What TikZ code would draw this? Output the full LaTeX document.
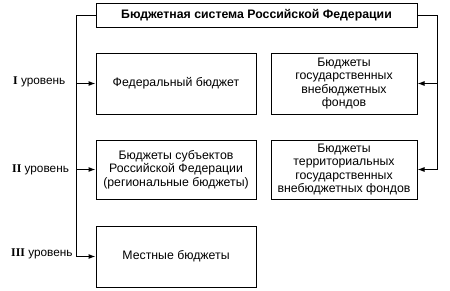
\documentclass[tikz,border=0pt]{standalone}
\usepackage{fontspec}
\setmainfont{Liberation Sans}
\newfontfamily\romfont{Liberation Serif}
\usetikzlibrary{arrows.meta}
\begin{document}
\begin{tikzpicture}[x=1pt,y=-1pt,
  box/.style={draw,line width=1pt,align=center,inner sep=0pt,
    font=\fontsize{12.3}{13.3}\selectfont},
  conn/.style={line width=1pt},
  arr/.style={conn,-{Latex[length=7pt,width=5pt]}},
  lvl/.style={anchor=west,inner sep=0pt,font=\fontsize{11.8}{14}\selectfont}]
\useasboundingbox (0,0) rectangle (450,290);
\node[box,minimum width=321pt,minimum height=24pt,font=\fontsize{12.3}{14}\selectfont\bfseries]
  (title) at (256.5,15) {Бюджетная система Российской Федерации};
\node[box,minimum width=160pt,minimum height=61pt] (fed) at (176,83.5) {Федеральный бюджет};
\node[box,minimum width=146pt,minimum height=61pt] (funds) at (344,83.5)
  {Бюджеты\\государственных\\внебюджетных\\фондов};
\node[box,minimum width=160pt,minimum height=59pt] (reg) at (176,169.5)
  {Бюджеты субъектов\\Российской Федерации\\(региональные бюджеты)};
\node[box,minimum width=146pt,minimum height=59pt] (terr) at (344,169.5)
  {Бюджеты\\территориальных\\государственных\\внебюджетных фондов};
\node[box,minimum width=160pt,minimum height=61pt] (loc) at (176,256.5) {Местные бюджеты};
\coordinate (lb) at (76,256.5);
\coordinate (rb) at (437,169.5);
\draw[conn] (title.west) -| (lb);
\draw[arr] (lb) -- (loc.west);
\draw[arr] (fed.west -| lb) -- (fed.west);
\draw[arr] (reg.west -| lb) -- (reg.west);
\draw[conn] (title.east) -| (rb);
\draw[arr] (rb) -- (terr.east);
\draw[arr] (funds.east -| rb) -- (funds.east);
\node[lvl] (l1) at (13,82) {{\romfont\bfseries I} уровень};
\node[lvl] (l2) at (12,170) {{\romfont\bfseries II} уровень};
\node[lvl] (l3) at (11,254) {{\romfont\bfseries III} уровень};
\end{tikzpicture}
\end{document}
